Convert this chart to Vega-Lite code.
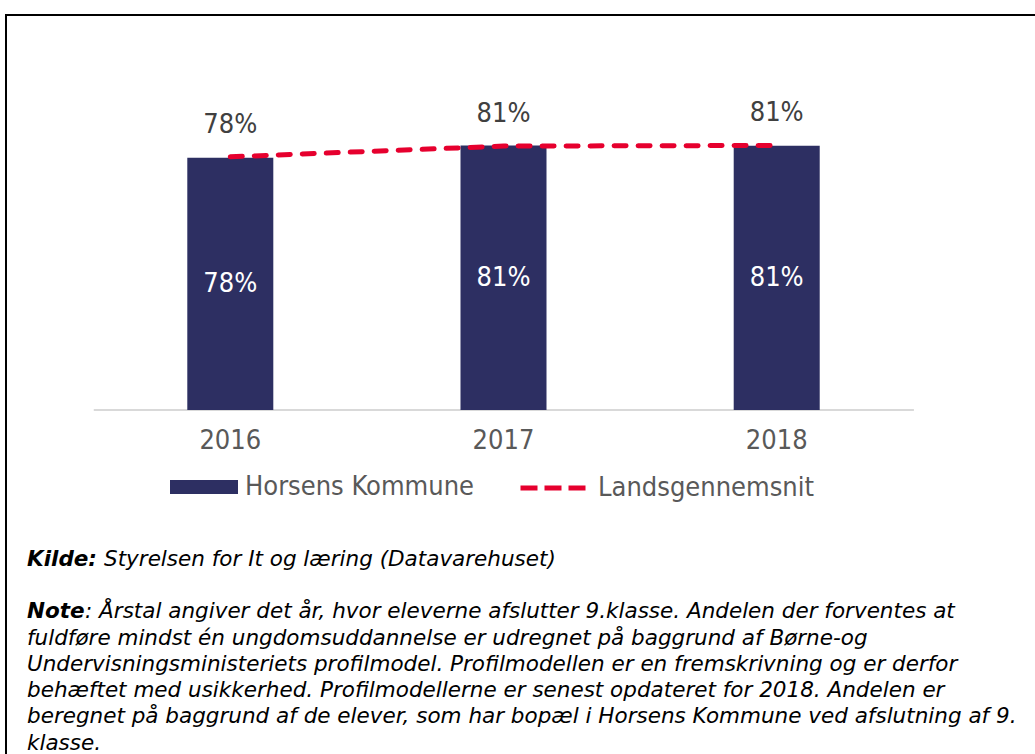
{
  "$schema": "https://vega.github.io/schema/vega-lite/v6.json",
  "width": 1039,
  "height": 749,
  "autosize": {"type": "none"},
  "padding": {"left": 6, "top": 15, "right": -10, "bottom": -10},
  "background": "white",
  "config": {
    "view": {"stroke": "#000000", "strokeWidth": 2},
    "font": "DejaVu Sans Condensed, DejaVu Sans"
  },
  "datasets": {
    "main": [
      {"year": "2016", "horsens": 0.776, "lands": 0.779},
      {"year": "2017", "horsens": 0.814, "lands": 0.812},
      {"year": "2018", "horsens": 0.813, "lands": 0.814}
    ],
    "notes": [
      {"line": 0, "part": "b", "text": "Kilde:"},
      {"line": 0, "part": "r", "text": "Styrelsen for It og læring (Datavarehuset)"},
      {"line": 2, "part": "b", "text": "Note"},
      {"line": 2, "part": "r", "text": ": Årstal angiver det år, hvor eleverne afslutter 9.klasse. Andelen der forventes at"},
      {"line": 3, "part": "t", "text": "fuldføre mindst én ungdomsuddannelse er udregnet på baggrund af Børne-og"},
      {"line": 4, "part": "t", "text": "Undervisningsministeriets profilmodel. Profilmodellen er en fremskrivning og er derfor"},
      {"line": 5, "part": "t", "text": "behæftet med usikkerhed. Profilmodellerne er senest opdateret for 2018. Andelen er"},
      {"line": 6, "part": "t", "text": "beregnet på baggrund af de elever, som har bopæl i Horsens Kommune ved afslutning af 9."},
      {"line": 7, "part": "t", "text": "klasse."}
    ]
  },
  "resolve": {"scale": {"x": "independent", "y": "independent"}},
  "layer": [
    {
      "data": {"name": "main"},
      "layer": [
        {
          "mark": {"type": "rule", "color": "#d9d9d9", "strokeWidth": 1.5},
          "encoding": {
            "x": {"datum": "2016", "bandPosition": -1.086, "scale": {"type": "band", "paddingInner": 0.6852, "paddingOuter": 0.7441, "align": 0.4459}, "axis": null},
            "x2": {"datum": "2018", "bandPosition": 2.093},
            "y": {"datum": 0, "type": "quantitative", "scale": {"domain": [-1.08923, 1.21538], "nice": false, "zero": false}, "axis": null}
          }
        },
        {
          "mark": {"type": "bar"},
          "encoding": {
            "x": {"field": "year", "type": "nominal", "scale": {"type": "band", "paddingInner": 0.6852, "paddingOuter": 0.7441, "align": 0.4459}, "axis": null},
            "y": {"field": "horsens", "type": "quantitative", "scale": {"domain": [-1.08923, 1.21538], "nice": false, "zero": false}, "axis": null},
            "fill": {
              "datum": "Horsens Kommune",
              "scale": {"range": ["#2d2f62"]},
              "legend": {
                "orient": "none", "legendX": 164, "legendY": 438, "title": null,
                "symbolType": "M-1,-0.206H1V0.206H-1Z", "symbolSize": 4624, "symbolStrokeWidth": 0,
                "labelFontSize": 27, "labelColor": "#595959", "labelOffset": 7, "labelLimit": 0, "padding": 0
              }
            }
          }
        },
        {
          "mark": {"type": "line", "strokeDash": [12, 12], "strokeCap": "round", "strokeWidth": 5},
          "encoding": {
            "x": {"field": "year", "type": "nominal", "axis": null},
            "y": {"field": "lands", "type": "quantitative", "scale": {"domain": [-1.08923, 1.21538], "nice": false, "zero": false}, "axis": null},
            "stroke": {
              "datum": "Landsgennemsnit",
              "scale": {"range": ["#e6002e"]},
              "legend": {
                "orient": "none", "legendX": 512, "legendY": 438, "title": null,
                "symbolType": "stroke", "symbolSize": 4225, "symbolStrokeWidth": 5, "symbolDash": [17, 7],
                "labelFontSize": 27, "labelColor": "#595959", "labelOffset": 10, "labelLimit": 0, "padding": 0
              }
            }
          }
        },
        {
          "mark": {"type": "text", "fontSize": 27, "color": "#ffffff", "baseline": "middle"},
          "encoding": {
            "x": {"field": "year", "type": "nominal", "axis": null},
            "y": {"field": "horsens", "type": "quantitative", "stack": "zero", "bandPosition": 0.5, "scale": {"domain": [-1.08923, 1.21538], "nice": false, "zero": false}, "axis": null},
            "text": {"field": "horsens", "type": "quantitative", "format": ".0%"}
          }
        },
        {
          "mark": {"type": "text", "fontSize": 27, "color": "#404040", "baseline": "middle", "dy": -32},
          "encoding": {
            "x": {"field": "year", "type": "nominal", "axis": null},
            "y": {"field": "lands", "type": "quantitative", "scale": {"domain": [-1.08923, 1.21538], "nice": false, "zero": false}, "axis": null},
            "text": {"field": "lands", "type": "quantitative", "format": ".0%"}
          }
        },
        {
          "mark": {"type": "text", "fontSize": 27, "color": "#595959", "baseline": "middle", "dy": 31},
          "encoding": {
            "x": {"field": "year", "type": "nominal", "axis": null},
            "y": {"datum": 0, "type": "quantitative", "scale": {"domain": [-1.08923, 1.21538], "nice": false, "zero": false}, "axis": null},
            "text": {"field": "year", "type": "nominal"}
          }
        }
      ]
    },
    {
      "data": {"name": "notes"},
      "encoding": {
        "x": {"datum": 0, "type": "quantitative", "scale": {"domain": [0, 1]}, "axis": null},
        "y": {"field": "line", "type": "ordinal", "scale": {"type": "point", "domain": [0, 1, 2, 3, 4, 5, 6, 7], "range": [545, 728.5], "padding": 0}, "axis": null},
        "text": {"field": "text", "type": "nominal"}
      },
      "layer": [
        {
          "transform": [{"filter": "datum.part === 'b'"}],
          "mark": {"type": "text", "align": "left", "baseline": "middle", "dx": 21, "font": "DejaVu Sans", "fontSize": 21.5, "fontStyle": "italic", "fontWeight": "bold", "color": "#000000"}
        },
        {
          "transform": [{"filter": "datum.part === 'r' && datum.line === 0"}],
          "mark": {"type": "text", "align": "left", "baseline": "middle", "dx": 98, "font": "DejaVu Sans", "fontSize": 21.5, "fontStyle": "italic", "color": "#000000"}
        },
        {
          "transform": [{"filter": "datum.part === 'r' && datum.line === 2"}],
          "mark": {"type": "text", "align": "left", "baseline": "middle", "dx": 79, "font": "DejaVu Sans", "fontSize": 21.5, "fontStyle": "italic", "color": "#000000"}
        },
        {
          "transform": [{"filter": "datum.part === 't'"}],
          "mark": {"type": "text", "align": "left", "baseline": "middle", "dx": 21, "font": "DejaVu Sans", "fontSize": 21.5, "fontStyle": "italic", "color": "#000000"}
        }
      ]
    }
  ]
}
